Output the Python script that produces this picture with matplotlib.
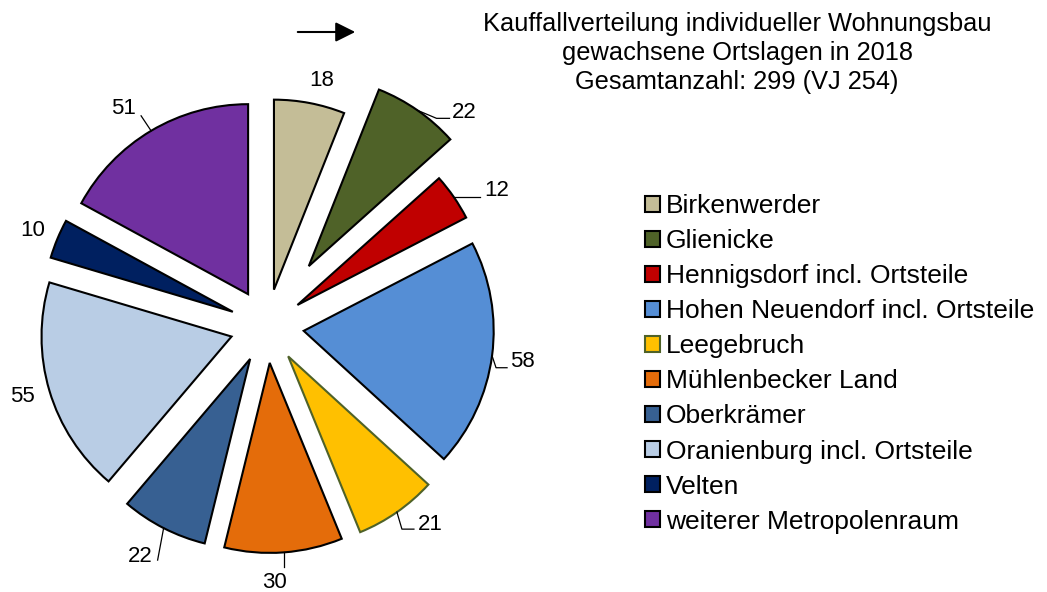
import numpy as np
import matplotlib
matplotlib.use("Agg")
import matplotlib.pyplot as plt
from matplotlib.patches import Patch

plt.rcParams['font.family'] = ['Liberation Sans', 'DejaVu Sans']

# data
regions = ["Birkenwerder", "Glienicke", "Hennigsdorf incl. Ortsteile",
           "Hohen Neuendorf incl. Ortsteile", "Leegebruch", "Mühlenbecker Land",
           "Oberkrämer", "Oranienburg incl. Ortsteile", "Velten",
           "weiterer Metropolenraum"]
counts = [18, 22, 12, 58, 21, 30, 22, 55, 10, 51]
title_lines = ["Kauffallverteilung individueller Wohnungsbau",
               "gewachsene Ortslagen in 2018",
               "Gesamtanzahl: 299 (VJ 254)"]

colors = ["#C4BD97", "#4F6228", "#C00000", "#558ED5", "#FFC000",
          "#E46C0A", "#376092", "#B9CDE5", "#002060", "#7030A0"]
edges = ["black", "black", "black", "black", "#4F6228",
         "black", "black", "black", "black", "black"]
# explode distance in pixels (axes are in pixel units)
explode = [37, 73, 37, 37, 37, 37, 37, 37, 37, 37]

W, H = 1047, 592
fig = plt.figure(figsize=(W / 100, H / 100), dpi=100)
ax = fig.add_axes([0, 0, 1, 1])

cx, cy, R = 267, H - 326, 190
wedges, _ = ax.pie(counts, colors=colors, explode=explode, startangle=90,
                   counterclock=False, center=(cx, cy), radius=R,
                   wedgeprops=dict(linewidth=1.5))
for w, ec in zip(wedges, edges):
    w.set_edgecolor(ec)

ax.set_xlim(0, W)
ax.set_ylim(0, H)
ax.set_aspect('equal')
ax.axis('off')

# label layout: text offset from arc midpoint (image px, y down), leader points
lab_off = [(12, -23), (47, 2), (43, -7), (30, 6), (33, 12),
           (-9, 30), (-23, 28), (-27, 6), (-25, -8), (-28, -22)]
leaders = [None, [(0, 0), (19, 8), (32, 8)], [(0, 0), (26, 0)],
           [(0, 0), (4, 12), (15, 12)], [(0, 0), (5, 17), (17, 17)],
           [(0, 0), (0, 15)], [(0, 0), (-6, 32)], None, None,
           [(0, 0), (-10, -15)]]

for w, n, off, ld in zip(wedges, counts, lab_off, leaders):
    mid = np.deg2rad((w.theta1 + w.theta2) / 2)
    wx, wy = w.center
    px = wx + w.r * np.cos(mid)
    py = wy + w.r * np.sin(mid)
    ax.text(px + off[0], py - off[1], str(n), ha='center', va='center',
            fontsize=16)
    if ld:
        ax.plot([px + d[0] for d in ld], [py - d[1] for d in ld],
                color='black', lw=0.9)

# title and arrow
for i, line in enumerate(title_lines):
    ax.text(737, H - 24.5 - i * 28.5, line, ha='center', va='center',
            fontsize=18.3)
ax.annotate("", xy=(358, H - 32), xytext=(295, H - 32),
            arrowprops=dict(arrowstyle='-|>', color='black', lw=1.5,
                            mutation_scale=30))

handles = [Patch(facecolor=c, edgecolor=e, linewidth=1.5)
           for c, e in zip(colors, edges)]
leg = fig.legend(handles, regions, loc='upper left',
                 bbox_to_anchor=(645 / W, 1 - 194 / H), frameon=False,
                 fontsize=19, handlelength=0.55, handleheight=0.55,
                 handletextpad=0.25, labelspacing=0.42, borderpad=0,
                 borderaxespad=0)

fig.savefig("out.png", dpi=100)
